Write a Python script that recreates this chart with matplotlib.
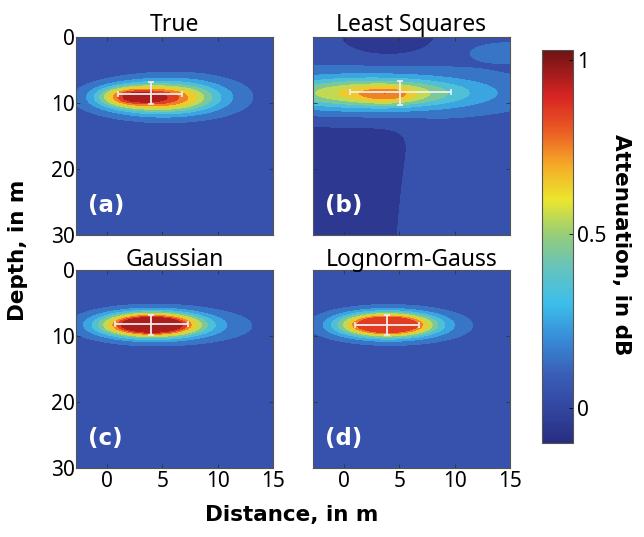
import numpy as np
import matplotlib
matplotlib.use("Agg")
import matplotlib.pyplot as plt
from matplotlib.colors import LinearSegmentedColormap, Normalize
from matplotlib.cm import ScalarMappable

plt.rcParams['font.family'] = ['Noto Sans', 'DejaVu Sans']

# panel titles and tags
titles = ["True", "Least Squares", "Gaussian", "Lognorm-Gauss"]
tags = ["(a)", "(b)", "(c)", "(d)"]

# anomaly components: x0, depth0, sx, sdepth, amplitude
blobs_a = [(1.8, 9.0, 1.8, 1.0, 0.40),
           (4.3, 9.3, 3.2, 1.5, 0.55),
           (6.5, 9.0, 3.3, 1.8, 0.30)]
blobs_b = [(4.0, 8.8, 1.8, 0.9, 0.17),
           (2.5, 8.5, 6.0, 1.5, 0.45),
           (2.0, 8.4, 10.0, 2.8, 0.15),
           (4.0, 0.0, 3.0, 2.2, -0.14),
           (15.0, 2.2, 3.0, 1.2, 0.09)]
blobs_c = [(3.9, 8.3, 2.9, 1.2, 1.20),
           (7.0, 8.5, 4.2, 1.6, 0.12)]
blobs_d = [(3.8, 8.3, 2.8, 1.2, 1.10),
           (6.0, 8.5, 3.5, 1.5, 0.10)]
caps = [1.0, 1.0, 1.0, 0.88]
# low zone in the least-squares image:
# right edge at its top and at 30 m (m), top depth (m), level
low_b = (6.6, 4.8, 12.6, -0.1)
background = 0.05

# error bars: centre x, centre depth, x lo, x hi, depth lo, depth hi
err_x = [4.0, 5.1, 4.0, 3.9]
err_z = [8.6, 8.3, 8.2, 8.3]
err_xlo = [1.0, 0.5, 0.7, 1.0]
err_xhi = [6.8, 9.7, 7.3, 6.8]
err_zlo = [6.8, 6.7, 6.8, 6.8]
err_zhi = [10.1, 10.3, 9.9, 9.9]

# colour bar anchors (value, rgb)
cb_vals = [-0.1, 0.0, 0.1, 0.2, 0.3, 0.4, 0.5, 0.6, 0.7, 0.8, 0.9, 1.03]
cb_rgb = [(40, 45, 130), (50, 70, 160), (58, 95, 185), (55, 140, 215),
          (60, 190, 235), (100, 195, 190), (150, 205, 120), (235, 230, 45),
          (245, 170, 40), (235, 90, 35), (215, 35, 35), (110, 20, 20)]
vmin, vmax = -0.1, 1.03

cmap = LinearSegmentedColormap.from_list(
    "atten", [((v - vmin) / (vmax - vmin), tuple(c / 255 for c in rgb))
              for v, rgb in zip(cb_vals, cb_rgb)])
norm = Normalize(vmin, vmax)
levels = np.arange(-0.1, 1.05, 0.1)

x = np.linspace(-2.8, 15, 179)
z = np.linspace(0, 30, 301)
X, Z = np.meshgrid(x, z)


def field(blobs, cap, low=None):
    f = np.full(X.shape, background)
    for x0, z0, sx, sz, a in blobs:
        f += a * np.exp(-(X - x0)**2 / (2 * sx**2) - (Z - z0)**2 / (2 * sz**2))
    if low is not None:
        xr_top, xr_bot, zt, a = low
        xr = xr_top + (xr_bot - xr_top) * np.clip((Z - zt) / (30 - zt), 0, 1)**0.5
        f += a / ((1 + np.exp((X - xr) / 1.2)) * (1 + np.exp((zt - Z) / 0.9)))
    return np.clip(f, -0.099, cap)


fields = [field(blobs_a, caps[0]), field(blobs_b, caps[1], low_b),
          field(blobs_c, caps[2]), field(blobs_d, caps[3])]

bold = dict(family=['DejaVu Sans'], fontweight='bold')

fig = plt.figure(figsize=(6.44, 5.37), dpi=100)
W, H = 644, 537
boxes = [(76, 37), (313, 37), (76, 270), (313, 270)]
aw, ah = 197, 198

for i in range(4):
    l, t = boxes[i]
    ax = fig.add_axes([l / W, 1 - (t + ah) / H, aw / W, ah / H])
    ax.contourf(x, z, fields[i], levels=levels, cmap=cmap, norm=norm)
    ax.errorbar(err_x[i], err_z[i],
                xerr=[[err_x[i] - err_xlo[i]], [err_xhi[i] - err_x[i]]],
                yerr=[[err_z[i] - err_zlo[i]], [err_zhi[i] - err_z[i]]],
                fmt='none', ecolor='#eeeeee', elinewidth=1.3, capsize=2, capthick=1.2)
    ax.set_xlim(-2.8, 15)
    ax.set_ylim(30, 0)
    ax.set_xticks([0, 5, 10, 15])
    ax.set_yticks([0, 10, 20, 30])
    ax.tick_params(direction='in', length=3, width=0.6, color='#333333',
                   labelsize=15, pad=2, top=True, right=True)
    ax.tick_params(axis='y', pad=1)
    if i < 2:
        ax.set_xticklabels([])
    if i % 2 == 1:
        ax.set_yticklabels([])
    for s in ax.spines.values():
        s.set_color('#555555')
        s.set_linewidth(0.8)
    ax.set_title(titles[i], fontsize=16.5, pad=3)
    ax.text(0.06, 0.15, tags[i], transform=ax.transAxes, color='white',
            fontsize=16.5, va='center', ha='left', **bold)

cax = fig.add_axes([542 / W, 1 - 443 / H, 31 / W, 393 / H])
cb = fig.colorbar(ScalarMappable(norm=norm, cmap=cmap), cax=cax, ticks=[0, 0.5, 1])
cb.ax.set_yticklabels(["0", "0.5", "1"])
cb.ax.tick_params(direction='in', length=3, width=0.6, labelsize=15, pad=3)
cb.outline.set_edgecolor('#555555')

fig.text(18 / W, 1 - 250 / H, "Depth, in m", rotation=90, fontsize=15.5,
         ha='center', va='center', **bold)
fig.text(292 / W, 1 - 515 / H, "Distance, in m", fontsize=15.5,
         ha='center', va='center', **bold)
fig.text(621 / W, 1 - 245 / H, "Attenuation, in dB", rotation=-90, fontsize=15.5,
         ha='center', va='center', **bold)

fig.savefig("out.png", dpi=100)
